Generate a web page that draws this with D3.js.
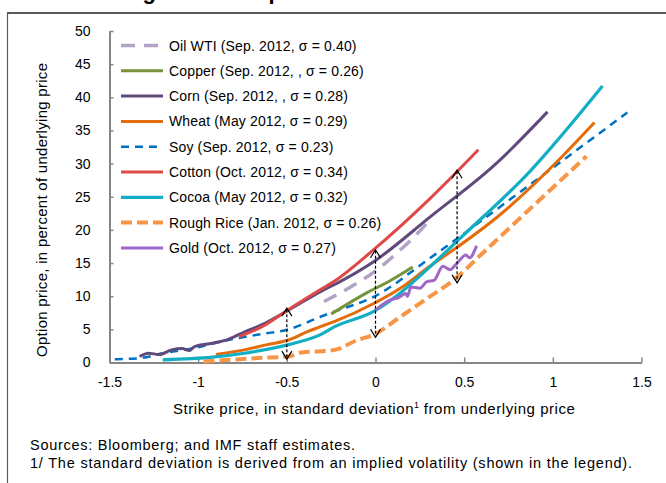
<!DOCTYPE html>
<html><head><meta charset="utf-8">
<script src="https://cdn.jsdelivr.net/npm/d3@7/dist/d3.min.js"></script>
<style>body{margin:0;background:#fff}svg{display:block}text{font-family:"Liberation Sans",Arial,sans-serif;fill:#000}</style>
</head><body>
<svg id="c" width="666" height="483"></svg>
<script>
// ---- data ----
const xTicks = [-1.5, -1, -0.5, 0, 0.5, 1, 1.5];
const xTickLabels = ["-1.5", "-1", "-0.5", "0", "0.5", "1", "1.5"];
const yTicks = [0, 5, 10, 15, 20, 25, 30, 35, 40, 45, 50];
const seriesNames = ["Oil WTI (Sep. 2012, σ = 0.40)", "Copper (Sep. 2012, , σ = 0.26)", "Corn (Sep. 2012, , σ = 0.28)",
  "Wheat (May 2012, σ = 0.29)", "Soy (Sep. 2012, σ = 0.23)", "Cotton (Oct. 2012, σ = 0.34)",
  "Cocoa (May 2012, σ = 0.32)", "Rough Rice (Jan. 2012, σ = 0.26)", "Gold (Oct. 2012, σ = 0.27)"];
const oil = [[-0.29, 9.2], [-0.14, 11.4], [0.01, 14.0], [0.12, 16.5], [0.22, 19.0], [0.32, 21.9]];
const copper = [[-0.25, 7.3], [-0.05, 10.5], [0.08, 12.3], [0.21, 14.4]];
const corn = [[-1.33, 0.9], [-1.28, 1.4], [-1.22, 1.2], [-1.15, 1.9], [-1.09, 2.1], [-1.05, 1.8], [-1.02, 2.4],
  [-0.92, 2.9], [-0.83, 3.5], [-0.74, 4.6], [-0.64, 5.7], [-0.49, 7.9], [-0.31, 10.7], [-0.2, 12.2],
  [0, 15.4], [0.31, 22.0], [0.68, 30.0], [0.97, 37.8]];
const wheat = [[-0.9, 1.2], [-0.74, 1.9], [-0.61, 2.7], [-0.49, 3.4], [-0.38, 4.7], [-0.31, 5.4], [-0.23, 6.2],
  [-0.01, 8.9], [0.14, 11.2], [0.31, 14.6], [0.44, 17.0], [0.68, 21.8], [1.05, 31.0], [1.235, 36.2]];
const soy = [[-1.47, 0.5], [-1.33, 0.65], [-1.2, 1.4], [-1.02, 2.2], [-0.83, 3.4], [-0.64, 4.3], [-0.49, 5.0],
  [-0.31, 6.9], [-0.23, 7.7], [-0.01, 9.9], [0.31, 15.8], [0.87, 26.8], [1.42, 37.7]];
const cotton = [[-0.77, 3.9], [-0.64, 5.4], [-0.49, 8.0], [-0.31, 11.0], [-0.23, 12.3], [-0.02, 16.8],
  [0.31, 24.8], [0.58, 32.1]];
const cocoa = [[-1.2, 0.4], [-0.92, 0.8], [-0.74, 1.4], [-0.49, 2.7], [-0.31, 4.2], [-0.23, 5.4], [-0.01, 7.7],
  [0.14, 10.5], [0.31, 14.5], [0.46, 18.3], [0.87, 28.8], [1.28, 41.7]];
const rice = [[-0.97, 0.15], [-0.64, 0.7], [-0.49, 0.9], [-0.42, 1.5], [-0.31, 1.7], [-0.23, 1.9], [-0.1, 3.4],
  [-0.01, 4.2], [0.14, 6.9], [0.31, 10.0], [0.42, 12.0], [0.62, 16.9], [0.68, 18.4], [1.19, 31.1]];
const gold = [[0, 7.9], [0.08, 9.4], [0.13, 9.8], [0.17, 10.4], [0.18, 10.0], [0.2, 11.4], [0.25, 11.2],
  [0.29, 12.2], [0.33, 12.4], [0.38, 14.5], [0.42, 14.0], [0.46, 15.0], [0.51, 16.2], [0.53, 15.8], [0.57, 17.6]];
const arrowX = [-0.5, 0, 0.46];
const arrowTop = [8.2, 17.0, 29.0];
const arrowBottom = [0.5, 3.8, 12.0];

// ---- styles ----
const seriesData = [oil, copper, corn, wheat, soy, cotton, cocoa, rice, gold];
const colors = ["#B3A2C7", "#77933C", "#604A7B", "#E46C0A", "#0070C0", "#E04848", "#12AEC4", "#F79646", "#A066C8"];
const dashes = ["14,9", null, null, null, "8,6", null, null, "11,5", null];
const widths = [3.5, 3, 3, 3, 2.5, 3, 3.2, 4, 3];

const svg = d3.select("#c");
const x = d3.scaleLinear().domain([-1.5, 1.5]).range([109.5, 641.5]);
const y = d3.scaleLinear().domain([0, 50]).range([362.5, 31]);

// frame
svg.append("rect").attr("x", 7.5).attr("y", 13).attr("width", 700).attr("height", 500)
  .attr("fill", "none").attr("stroke", "#595959").attr("stroke-width", 1.2);
svg.append("line").attr("x1", 7).attr("x2", 666).attr("y1", 13).attr("y2", 13)
  .attr("stroke", "#595959").attr("stroke-width", 2);
// clipped title (cut off at the top edge, as in the reference)
svg.append("text").attr("x", 123).attr("y", -1.5).attr("font-size", 22).attr("font-weight", "bold")
  .text("Figure 1.18. Option Prices");

// axes
const gx = svg.append("g").attr("transform", `translate(0,${y(0)})`)
  .call(d3.axisBottom(x).tickValues(xTicks).tickFormat((d, i) => xTickLabels[i]).tickSizeInner(-5).tickSizeOuter(0).tickPadding(15));
const gy = svg.append("g").attr("transform", `translate(${x(-1.5)},0)`)
  .call(d3.axisLeft(y).tickValues(yTicks).tickSizeInner(-4).tickSizeOuter(0).tickPadding(19));
[gx, gy].forEach(g => {
  g.select(".domain").attr("stroke", "#868686").attr("stroke-width", 2);
  g.selectAll(".tick line").attr("stroke", "#868686").attr("stroke-width", 1.5);
  g.selectAll(".tick text").attr("font-size", 14).attr("font-family", "Liberation Sans, Arial, sans-serif").attr("fill", "#000");
});

// lines
const line = d3.line().x(d => x(d[0])).y(d => y(d[1])).curve(d3.curveMonotoneX);
const order = [4, 7, 3, 6, 1, 0, 2, 5, 8];
order.forEach(i => {
  svg.append("path").attr("d", line(seriesData[i])).attr("fill", "none")
    .attr("stroke", colors[i]).attr("stroke-width", widths[i])
    .attr("stroke-dasharray", dashes[i]).attr("stroke-linejoin", "round");
});

// arrows
arrowX.forEach((ax, i) => {
  const px = x(ax), t = y(arrowTop[i]), b = y(arrowBottom[i]);
  svg.append("line").attr("x1", px).attr("x2", px).attr("y1", t + 1).attr("y2", b - 1)
    .attr("stroke", "#000").attr("stroke-width", 1.2).attr("stroke-dasharray", "3,2");
  svg.append("path").attr("d", `M${px - 5},${t + 8}L${px},${t}L${px + 5},${t + 8}`)
    .attr("fill", "none").attr("stroke", "#000").attr("stroke-width", 1.2);
  svg.append("path").attr("d", `M${px - 5},${b - 8}L${px},${b}L${px + 5},${b - 8}`)
    .attr("fill", "none").attr("stroke", "#000").attr("stroke-width", 1.2);
});

// legend
const lg = svg.append("g");
seriesNames.forEach((n, i) => {
  const cy = 45.5 + i * 25.3;
  lg.append("line").attr("x1", 121).attr("x2", 163).attr("y1", cy).attr("y2", cy)
    .attr("stroke", colors[i]).attr("stroke-width", widths[i]).attr("stroke-dasharray", dashes[i]);
  lg.append("text").attr("x", 169).attr("y", cy + 5).attr("font-size", 14).attr("letter-spacing", 0.15).text(n);
});

// axis titles
svg.append("text").attr("transform", `translate(47,${210}) rotate(-90)`).attr("text-anchor", "middle")
  .attr("font-size", 15).attr("textLength", 294).attr("lengthAdjust", "spacing")
  .text("Option price, in percent of underlying price");
const xt = svg.append("text").attr("x", 173).attr("y", 414).attr("font-size", 15);
xt.append("tspan").attr("letter-spacing", 0.55).text("Strike price, in standard deviation");
xt.append("tspan").attr("font-size", 9).attr("dy", -6).text("1");
xt.append("tspan").attr("dy", 6).attr("letter-spacing", 0.55).text(" from underlying price");

// notes
svg.append("text").attr("x", 30).attr("y", 450).attr("font-size", 14.5)
  .attr("textLength", 325).attr("lengthAdjust", "spacing").text("Sources: Bloomberg; and IMF staff estimates.");
svg.append("text").attr("x", 30).attr("y", 468).attr("font-size", 14.5)
  .attr("textLength", 602).attr("lengthAdjust", "spacing")
  .text("1/ The standard deviation is derived from an implied volatility (shown in the legend).");
</script>
</body></html>
